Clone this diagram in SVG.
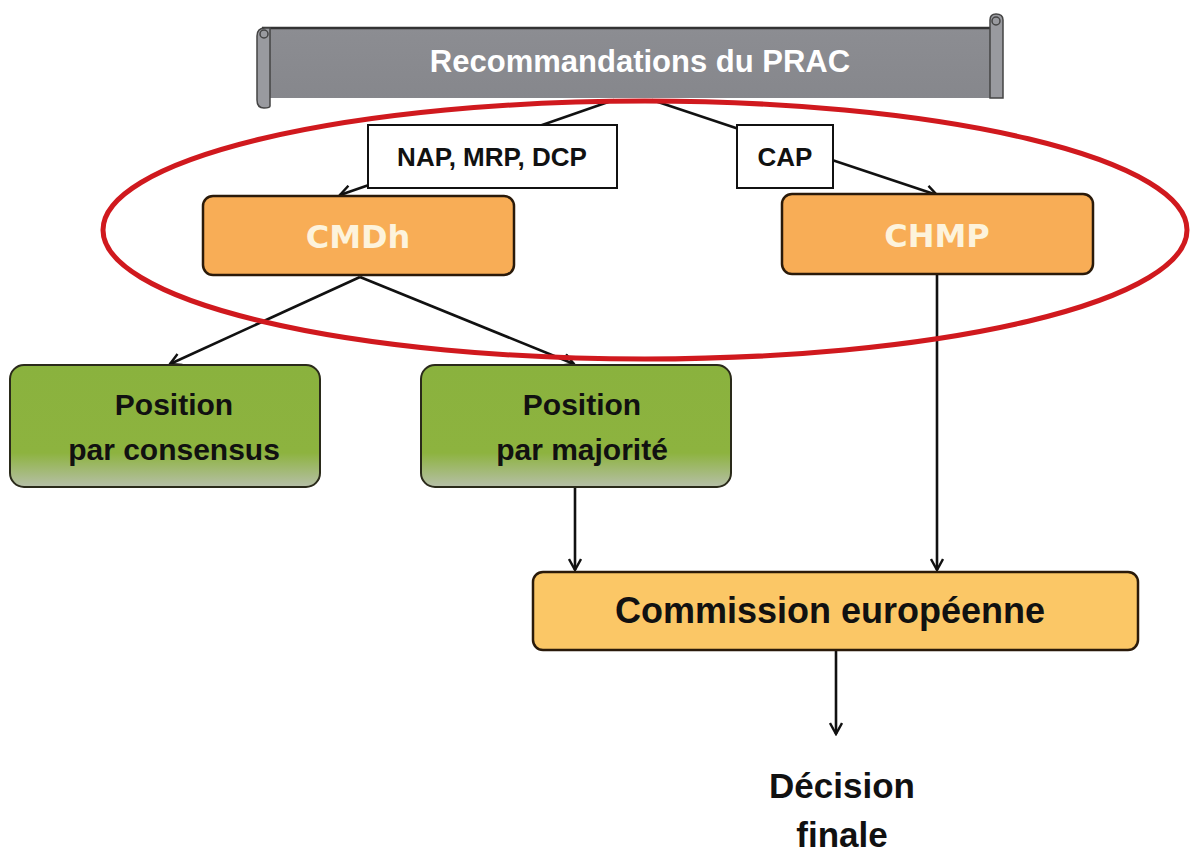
<svg xmlns="http://www.w3.org/2000/svg" width="1192" height="853" viewBox="0 0 1192 853">
<defs>
<marker id="arr" viewBox="0 0 14 14" refX="12" refY="7" markerWidth="14" markerHeight="14" markerUnits="userSpaceOnUse" orient="auto">
<path d="M1,1 L12,7 L1,13" fill="none" stroke="#111" stroke-width="2.4"/>
</marker>
<linearGradient id="green" x1="0" y1="0" x2="0" y2="1">
<stop offset="0" stop-color="#8ab23e"/>
<stop offset="0.72" stop-color="#8db33f"/>
<stop offset="1" stop-color="#b6bfa8"/>
</linearGradient>
<linearGradient id="gray" x1="0" y1="0" x2="0" y2="1">
<stop offset="0" stop-color="#8c8d92"/>
<stop offset="1" stop-color="#86878c"/>
</linearGradient>
</defs>
<style>
.lbl{fill:#fff;stroke:#111;stroke-width:2}
.lt{font-family:"Liberation Sans",Arial,sans-serif;font-weight:bold;font-size:26px;fill:#111;text-anchor:middle}
.orange{fill:#f8ad56;stroke:#2a1a0a;stroke-width:2.5}
.ot{font-family:"DejaVu Sans",Verdana,sans-serif;font-weight:bold;font-size:32px;fill:#fdf3dc;text-anchor:middle}
.greenbox{fill:url(#green);stroke:#2a2a1a;stroke-width:2}
.gt{font-family:"Liberation Sans",Arial,sans-serif;font-weight:bold;font-size:30px;fill:#111;text-anchor:middle}
.conn{stroke:#111;stroke-width:2.6;fill:none;marker-end:url(#arr)}
</style>
<rect width="1192" height="853" fill="#fff"/>
<g id="banner">
<rect x="262" y="28" width="736" height="70" fill="url(#gray)"/>
<line x1="262" y1="28" x2="998" y2="28" stroke="#333" stroke-width="2.5"/>
<path d="M257,36 Q257,28 265,28 L270,28 L270,106 Q270,108 264,108 Q257,108 257,100 Z" fill="#999a9f" stroke="#444" stroke-width="1.5"/>
<circle cx="264" cy="34" r="4" fill="none" stroke="#444" stroke-width="1.5"/>
<path d="M990,28 L990,20 Q990,14 996,14 Q1003,14 1003,20 L1003,98 L990,98 Z" fill="#999a9f" stroke="#444" stroke-width="1.5"/>
<circle cx="996" cy="21" r="4" fill="none" stroke="#444" stroke-width="1.5"/>
<text x="640" y="72" font-family="Liberation Sans,Arial,sans-serif" font-weight="bold" font-size="31" fill="#fff" text-anchor="middle">Recommandations du PRAC</text>
</g>
<g id="connectors">
<line class="conn" x1="614" y1="100" x2="340" y2="195"/>
<line class="conn" x1="652" y1="100" x2="937" y2="195"/>
<line class="conn" x1="360" y1="277" x2="170" y2="364"/>
<line class="conn" x1="360" y1="277" x2="574" y2="364"/>
<line class="conn" x1="937" y1="275" x2="937" y2="570"/>
<line class="conn" x1="575" y1="488" x2="575" y2="570"/>
<line class="conn" x1="836" y1="651" x2="836" y2="734"/>
</g>
<g id="label-nap">
<rect class="lbl" x="368" y="125" width="249" height="63"/>
<text class="lt" x="492" y="166">NAP, MRP, DCP</text>
</g>
<g id="label-cap">
<rect class="lbl" x="737" y="125" width="96" height="63"/>
<text class="lt" x="785" y="166">CAP</text>
</g>
<g id="cmdh">
<rect class="orange" x="203" y="196" width="311" height="79" rx="10"/>
<text class="ot" x="358" y="248">CMDh</text>
</g>
<g id="chmp">
<rect class="orange" x="782" y="194" width="311" height="80" rx="10"/>
<text class="ot" x="937" y="247">CHMP</text>
</g>
<g id="consensus">
<rect class="greenbox" x="10" y="365" width="310" height="122" rx="14"/>
<text class="gt" x="174" y="415">Position</text>
<text class="gt" x="174" y="460">par consensus</text>
</g>
<g id="majorite">
<rect class="greenbox" x="421" y="365" width="310" height="122" rx="14"/>
<text class="gt" x="582" y="415">Position</text>
<text class="gt" x="582" y="460">par majorité</text>
</g>
<g id="commission">
<rect x="533" y="572" width="605" height="78" rx="10" fill="#fbc766" stroke="#2a1a0a" stroke-width="2.5"/>
<text x="830" y="623" font-family="Liberation Sans,Arial,sans-serif" font-weight="bold" font-size="36" fill="#111" text-anchor="middle">Commission européenne</text>
</g>
<g id="decision">
<text x="842" y="798" font-family="Liberation Sans,Arial,sans-serif" font-weight="bold" font-size="35" fill="#111" text-anchor="middle">Décision</text>
<text x="842" y="847" font-family="Liberation Sans,Arial,sans-serif" font-weight="bold" font-size="35" fill="#111" text-anchor="middle">finale</text>
</g>
<g id="highlight">
<ellipse cx="645" cy="230" rx="542" ry="129" fill="none" stroke="#d0191e" stroke-width="5"/>
</g>
</svg>
